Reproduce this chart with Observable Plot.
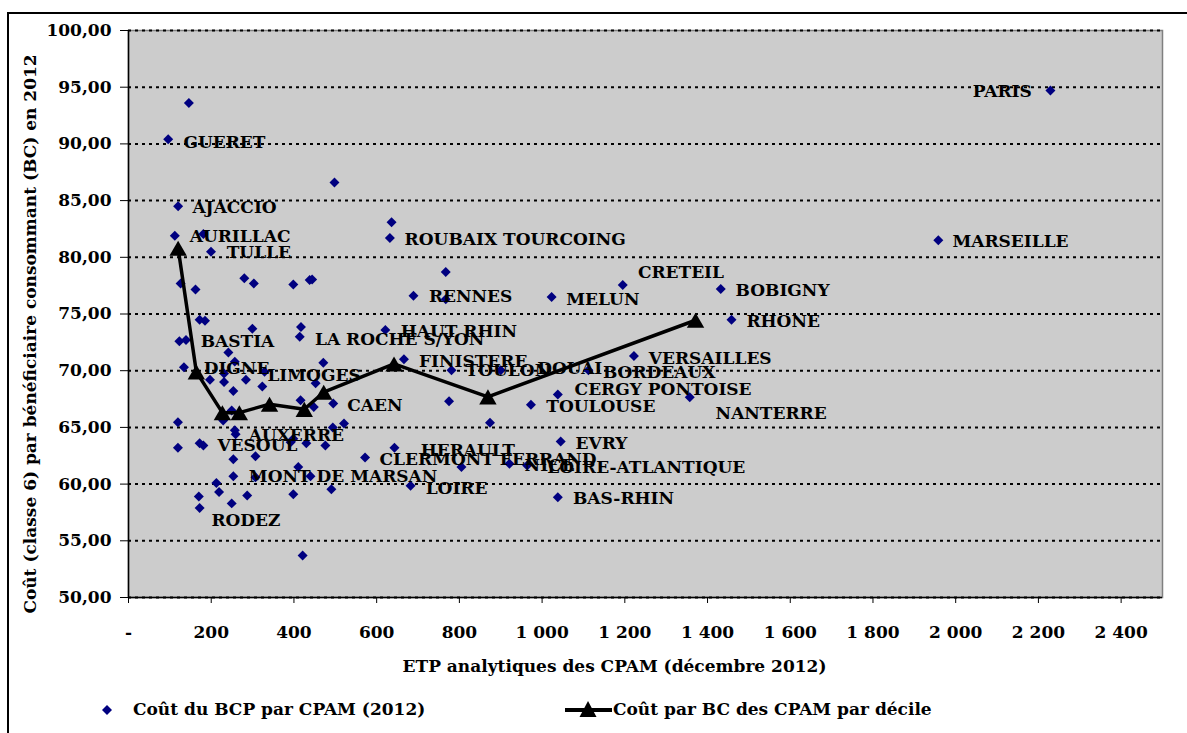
<!DOCTYPE html>
<html>
<head>
<meta charset="utf-8">
<script src="https://cdn.jsdelivr.net/npm/d3@7"></script>
<script src="https://cdn.jsdelivr.net/npm/@observablehq/plot@0.6"></script>
<style>
  html, body { margin: 0; padding: 0; background: white; }
  body { width: 1187px; height: 733px; overflow: hidden; position: relative; font-family: "DejaVu Serif", serif; font-weight: bold; }
  #frame { position: absolute; left: 7px; top: 12px; width: 1200px; height: 800px; border: 2px solid black; box-sizing: border-box; pointer-events: none; }
  #chart { position: absolute; left: 0; top: 0; }
  .leg { position: absolute; font-size: 17px; line-height: 20px; white-space: nowrap; color: black; }
</style>
</head>
<body>
<div id="chart"></div>
<div id="frame"></div>
<svg style="position:absolute;left:97px;top:700px" width="20" height="20"><path d="M10,5L15,10L10,15L5,10Z" fill="#000080"/></svg>
<div class="leg" style="left:133px;top:699px;">Coût du BCP par CPAM (2012)</div>
<svg style="position:absolute;left:560px;top:698px" width="56" height="24"><line x1="5" y1="12" x2="52" y2="12" stroke="black" stroke-width="4"/><path d="M28,3L36.5,19L19.5,19Z" fill="black"/></svg>
<div class="leg" style="left:613px;top:699px;">Coût par BC des CPAM par décile</div>
<script>
// ---- data ----
const cpamX = [2229, 146, 96, 498, 120, 636, 112, 632, 1958, 181, 199.5, 126, 162, 280, 303, 398.5, 438, 444, 767, 1195,
  1432, 689, 767, 1023, 172, 185, 1458, 299.5, 417, 414, 621, 123, 139, 241.5, 1222, 666, 257, 471, 134, 781,
  900, 1112, 231, 329, 197, 231, 284, 323.5, 253.5, 452.5, 1038, 1357, 416, 448, 495, 775, 973, 249.5, 229, 521,
  494, 119.5, 874, 257, 259, 119.5, 172, 181, 392, 398.5, 430, 476, 1045, 643, 307, 253.5, 572, 410.5, 805, 921,
  964, 440, 253.5, 307, 212.5, 219, 287, 398.5, 490.5, 682, 170, 172, 249.5, 421, 1038];
const cpamY = [94.7, 93.6, 90.4, 86.6, 84.5, 83.1, 81.9, 81.7, 81.5, 82.05, 80.5, 77.7, 77.15, 78.15, 77.7, 77.6, 78.0, 78.05, 78.7, 77.55,
  77.2, 76.6, 76.3, 76.5, 74.5, 74.4, 74.5, 73.7, 73.85, 73.0, 73.6, 72.6, 72.7, 71.6, 71.3, 71.0, 70.8, 70.7, 70.3, 70.05,
  70.05, 70.05, 69.75, 69.9, 69.2, 69.0, 69.2, 68.6, 68.2, 68.9, 67.9, 67.65, 67.4, 66.8, 67.1, 67.3, 67.0, 66.5, 65.6, 65.35,
  65.0, 65.45, 65.4, 64.75, 64.4, 63.2, 63.6, 63.4, 63.7, 64.0, 63.6, 63.4, 63.75, 63.2, 62.45, 62.2, 62.35, 61.5, 61.5, 61.8,
  61.65, 60.7, 60.7, 60.6, 60.1, 59.3, 59.0, 59.1, 59.55, 59.85, 58.9, 57.9, 58.3, 53.7, 58.85];

const decileX = [120, 164, 227, 268, 341, 425, 472, 642, 869, 1371];
const decileY = [80.8, 69.9, 66.3, 66.3, 67.05, 66.6, 68.1, 70.6, 67.7, 74.45];

const labelNames = ["PARIS", "GUERET", "AJACCIO", "AURILLAC", "TULLE", "ROUBAIX TOURCOING", "MARSEILLE", "CRETEIL",
  "BOBIGNY", "RENNES", "MELUN", "RHONE", "HAUT RHIN", "LA ROCHE S/YON", "BASTIA", "VERSAILLES", "FINISTERE",
  "TOULON", "DOUAI", "BORDEAUX", "DIGNE", "LIMOGES", "CERGY PONTOISE", "CAEN", "TOULOUSE", "NANTERRE",
  "AUXERRE", "EVRY", "VESOUL", "HERAULT", "CLERMONT FERRAND", "NICE", "LOIRE-ATLANTIQUE", "MONT DE MARSAN",
  "LOIRE", "BAS-RHIN", "RODEZ"];
const labelX = [2041, 132.7, 154.5, 148, 237.4, 667.6, 1992, 1231.6,
  1467.7, 726.4, 1058.5, 1494, 658, 450.8, 174.5, 1258, 702.2,
  815, 988.4, 1147, 181.7, 335.8, 1078.6, 529, 1010, 1419.5,
  290.5, 1081, 215, 706.3, 607, 957.7, 1012.6, 291,
  718.4, 1074.5, 200.4];
const labelY = [94.6, 90.16, 84.38, 81.79, 80.41, 81.56, 81.35, 78.65,
  77.03, 76.5, 76.3, 74.36, 73.42, 72.78, 72.54, 71.07, 70.84,
  70.04, 70.19, 69.84, 70.22, 69.6, 68.34, 66.96, 66.81, 66.23,
  64.32, 63.58, 63.37, 63.0, 62.2, 61.67, 61.47, 60.64,
  59.65, 58.74, 56.83];

const xTicks = [0, 200, 400, 600, 800, 1000, 1200, 1400, 1600, 1800, 2000, 2200, 2400];
const xTickLabels = ["-", "200", "400", "600", "800", "1 000", "1 200", "1 400", "1 600", "1 800", "2 000", "2 200", "2 400"];
const yTicks = [50, 55, 60, 65, 70, 75, 80, 85, 90, 95, 100];
const yTickLabels = ["50,00", "55,00", "60,00", "65,00", "70,00", "75,00", "80,00", "85,00", "90,00", "95,00", "100,00"];

const xTitle = "ETP analytiques des CPAM (décembre 2012)";
const yTitle = "Coût (classe 6) par bénéficiaire consommant (BC) en 2012";

// ---- tables ----
const points = cpamX.map((x, i) => ({x, y: cpamY[i]}));
const deciles = decileX.map((x, i) => ({x, y: decileY[i]}));
const labels = labelNames.map((name, i) => ({name, x: labelX[i], y: labelY[i]}));

const chart = Plot.plot({
  width: 1187,
  height: 690,
  marginTop: 30,
  marginLeft: 128,
  marginRight: 25,
  marginBottom: 93,
  style: {fontFamily: "'DejaVu Serif', serif", fontSize: "17px", fontWeight: "bold", background: "transparent", overflow: "visible"},
  x: {domain: [0, 2500]},
  y: {domain: [50, 100]},
  marks: [
    Plot.frame({fill: "#cccccc", stroke: "#808080", strokeWidth: 1.5}),
    Plot.gridY(yTicks, {stroke: "black", strokeOpacity: 1, strokeWidth: 2, strokeDasharray: "3,4"}),
    Plot.ruleX([0], {stroke: "black", strokeWidth: 1.5}),
    Plot.ruleY([50], {stroke: "black", strokeWidth: 1.5}),
    Plot.axisY(yTicks, {tickSize: 8, tickPadding: 9, tickFormat: (d) => yTickLabels[yTicks.indexOf(d)], label: null, fontSize: 17, fontWeight: "bold", stroke: "black"}),
    Plot.axisX(xTicks, {tickSize: 6, tickPadding: 22, tickFormat: (d) => xTickLabels[xTicks.indexOf(d)], label: null, fontSize: 17, fontWeight: "bold", stroke: "black"}),
    Plot.dot(points, {x: "x", y: "y", symbol: "diamond2", r: 4.5, fill: "#000080", stroke: "none"}),
    Plot.line(deciles, {x: "x", y: "y", stroke: "black", strokeWidth: 3.5}),
    Plot.dot(deciles, {x: "x", y: "y", symbol: "triangle2", r: 8.3, fill: "black", stroke: "none", dy: 2.6}),
    Plot.text(labels, {x: "x", y: "y", text: "name", textAnchor: "start", fill: "black", fontSize: 17, fontWeight: "bold"}),
    Plot.text([xTitle], {frameAnchor: "bottom", dy: 74, dx: -31, fill: "black", fontSize: 17, fontWeight: "bold"}),
    Plot.text([yTitle], {frameAnchor: "left", textAnchor: "middle", rotate: -90, dx: -98, dy: 20, fill: "black", fontSize: 17, fontWeight: "bold"})
  ]
});
document.getElementById("chart").appendChild(chart);
</script>
</body>
</html>
